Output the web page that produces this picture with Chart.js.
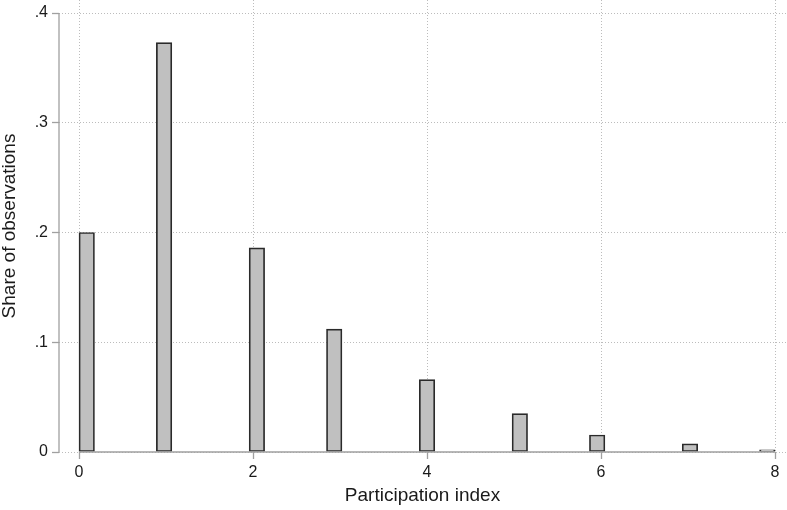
<!DOCTYPE html>
<html>
<head>
<meta charset="utf-8">
<script src="https://cdn.jsdelivr.net/npm/chart.js@4/dist/chart.umd.min.js"></script>
<style>
  html, body { margin: 0; padding: 0; background: #fff; }
  #wrap { width: 787px; height: 510px; position: relative; }
</style>
</head>
<body>
<div id="wrap"><canvas id="histChart"></canvas></div>
<script>
'use strict';

// ---- Data ----
const categories = [0, 1, 2, 3, 4, 5, 6, 7, 8];
const shares = [0.200, 0.373, 0.186, 0.112, 0.066, 0.035, 0.0155, 0.0075, 0.002];
const xTicks = [0, 2, 4, 6, 8];
const yTicks = [0, 0.1, 0.2, 0.3, 0.4];
const nBins = 45;          // histogram bins over 0..8
const xRange = [0, 8];

// Histogram bins: every bin centre is a point, empty bins stay null
const binWidth = (xRange[1] - xRange[0]) / nBins;
const binData = [];
for (let i = 0; i < nBins; i++) {
  binData.push({ x: xRange[0] + (i + 0.5) * binWidth, y: null });
}
categories.forEach((c, k) => {
  const idx = Math.min(Math.floor((c - xRange[0]) / binWidth), nBins - 1);
  binData[idx].y = shares[k];
});

Chart.defaults.font.family = "'Liberation Sans', Arial, sans-serif";
Chart.defaults.color = '#1a1a1a';

const GRID = '#bcbcbc';
const AXIS = '#a0a0a0';

// Stata-style axis lines that only cover the scale range
const axisLines = {
  id: 'axisLines',
  afterDatasetsDraw(chart) {
    const { ctx, chartArea, scales: { x, y } } = chart;
    ctx.save();
    ctx.strokeStyle = AXIS;
    ctx.lineWidth = 1.3;
    ctx.beginPath();
    ctx.moveTo(chartArea.left, y.getPixelForValue(yTicks[0]));
    ctx.lineTo(chartArea.left, y.getPixelForValue(yTicks[yTicks.length - 1]));
    ctx.moveTo(x.getPixelForValue(xTicks[0]), chartArea.bottom);
    ctx.lineTo(x.getPixelForValue(xTicks[xTicks.length - 1]), chartArea.bottom);
    ctx.stroke();
    ctx.restore();
  }
};

new Chart(document.getElementById('histChart'), {
  type: 'bar',
  data: {
    datasets: [{
      label: 'Share of observations',
      data: binData,
      backgroundColor: '#c0c0c0',
      borderColor: '#2a2a2a',
      borderWidth: 1.7,
      borderSkipped: false,
      barPercentage: 1,
      categoryPercentage: 1,
    }]
  },
  options: {
    responsive: true,
    maintainAspectRatio: false,
    animation: false,
    layout: { padding: { top: 0, right: 1, bottom: 0, left: 0 } },
    plugins: {
      legend: { display: false },
      tooltip: { enabled: false }
    },
    scales: {
      x: {
        type: 'linear',
        offset: false,
        min: -0.23,
        max: 8.126,
        afterBuildTicks: s => { s.ticks = xTicks.map(v => ({ value: v })); },
        afterFit: s => { s.height = 58; s.paddingLeft = 0; s.paddingRight = 0; },
        grid: {
          offset: false,
          color: GRID,
          tickColor: AXIS,
          tickLength: 7,
          tickWidth: 1.3,
          tickBorderDash: [],
        },
        border: { display: false, dash: [1, 2] },
        ticks: { font: { size: 16 }, padding: 4, maxRotation: 0 },
        title: {
          display: true,
          text: 'Participation index',
          font: { size: 19, lineHeight: 1 },
          padding: { top: 0, bottom: 5 }
        }
      },
      y: {
        min: 0,
        max: 0.41185,
        afterBuildTicks: s => { s.ticks = yTicks.map(v => ({ value: v })); },
        afterFit: s => { s.width = 59; s.paddingTop = 0; s.paddingBottom = 0; },
        grid: {
          color: GRID,
          tickColor: AXIS,
          tickLength: 7,
          tickWidth: 1.3,
          tickBorderDash: [],
        },
        border: { display: false, dash: [1, 2] },
        ticks: {
          font: { size: 16 },
          padding: 4,
          callback: v => (v === 0 ? '0' : String(+v.toFixed(2)).replace(/^0/, ''))
        },
        title: {
          display: true,
          text: 'Share of observations',
          font: { size: 19, lineHeight: 1 },
          padding: 0
        }
      }
    }
  },
  plugins: [axisLines]
});
</script>
</body>
</html>
